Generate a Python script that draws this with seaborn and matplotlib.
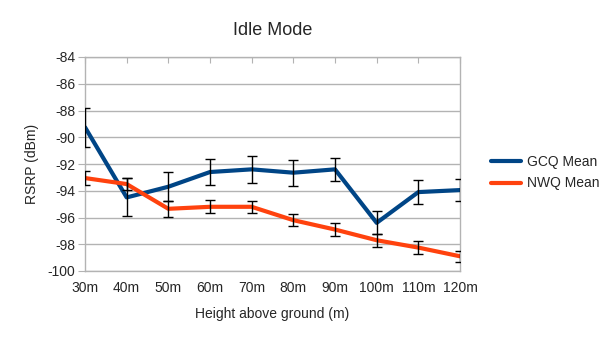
import numpy as np
import pandas as pd
import matplotlib
matplotlib.use("Agg")
import matplotlib.pyplot as plt
import seaborn as sns

# Heights and mean RSRP values
heights = ["30m", "40m", "50m", "60m", "70m", "80m", "90m", "100m", "110m", "120m"]
gcq_mean = [-89.25, -94.5, -93.7, -92.6, -92.4, -92.65, -92.4, -96.4, -94.1, -93.95]
gcq_err = [1.46, 1.42, 1.07, 1.0, 1.03, 0.96, 0.87, 0.86, 0.9, 0.85]
nwq_mean = [-93.05, -93.5, -95.35, -95.2, -95.2, -96.2, -96.9, -97.7, -98.25, -98.9]
nwq_err = [0.49, 0.44, 0.6, 0.5, 0.45, 0.43, 0.5, 0.5, 0.5, 0.41]

df = pd.DataFrame({
    "height": heights * 2,
    "rsrp": gcq_mean + nwq_mean,
    "series": ["GCQ Mean"] * len(heights) + ["NWQ Mean"] * len(heights),
})

sns.set_style("white")
plt.rcParams["font.family"] = ["Liberation Sans", "DejaVu Sans"]
plt.rcParams["axes.unicode_minus"] = False

grey = "#b3b3b3"
palette = {"GCQ Mean": "#004586", "NWQ Mean": "#ff420e"}

fig = plt.figure(figsize=(6.05, 3.4), dpi=100)
ax = fig.add_axes([85 / 605, 69 / 340, 375 / 605, 214 / 340])

sns.lineplot(data=df, x="height", y="rsrp", hue="series", palette=palette,
             linewidth=3, ax=ax, sort=False, zorder=3)

xpos = np.arange(len(heights))
ax.errorbar(xpos, gcq_mean, yerr=gcq_err, fmt="none", ecolor="black",
            elinewidth=1, capsize=3.5, capthick=1, zorder=4)
ax.errorbar(xpos, nwq_mean, yerr=nwq_err, fmt="none", ecolor="black",
            elinewidth=1, capsize=3.5, capthick=1, zorder=4)

ax.set_xlim(0, len(heights) - 1)
ax.set_ylim(-100, -84)
ax.set_yticks(np.arange(-100, -83, 2))
ax.yaxis.grid(True, color=grey, linewidth=1)
ax.set_axisbelow(True)
for s in ax.spines.values():
    s.set_color(grey)
    s.set_linewidth(1)

ax.tick_params(axis="x", bottom=False, top=True, labelbottom=True, labeltop=False,
               direction="in", length=4, color=grey, labelsize=10, pad=7)
ax.tick_params(axis="y", left=True, direction="out", length=5, color=grey,
               labelsize=10, pad=2)

ax.set_xlabel("Height above ground (m)", fontsize=10, labelpad=9)
ax.set_ylabel("RSRP (dBm)", fontsize=10, labelpad=6)
ax.set_title("Idle Mode", fontsize=13, pad=16)

ax.legend(loc="center left", bbox_to_anchor=(1.05, 0.46), frameon=False,
          fontsize=10, handlelength=2.15, handletextpad=0.45, labelspacing=0.55)

fig.savefig("out.png", dpi=100)
